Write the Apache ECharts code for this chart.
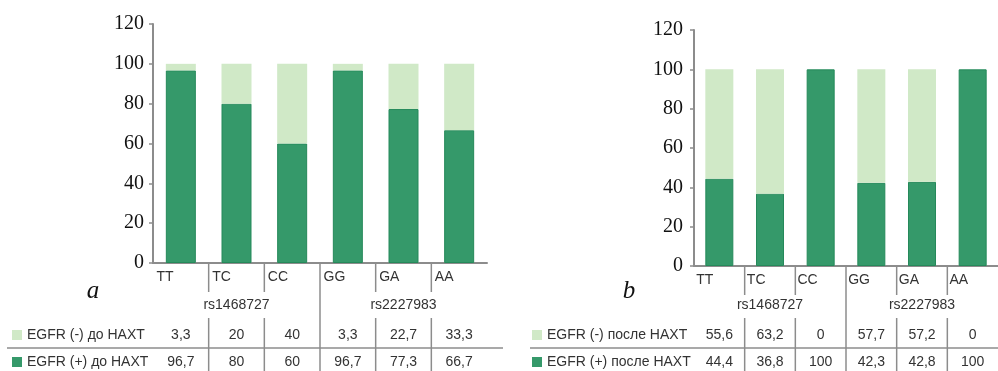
<!DOCTYPE html>
<html>
<head>
<meta charset="utf-8">
<script src="https://cdn.jsdelivr.net/npm/echarts@6/dist/echarts.min.js"></script>
<style>
  html, body { margin: 0; padding: 0; background: #fff; }
  #chart { width: 998px; height: 371px; }
</style>
</head>
<body>
<div id="chart"></div>
<script>
// Genotypes of the two EGFR polymorphisms
const genotypes = ['TT', 'TC', 'CC', 'GG', 'GA', 'AA'];
const snpGroups = ['rs1468727', 'rs2227983'];

// Panel a: before neoadjuvant chemotherapy (%)
const negBefore = [3.3, 20, 40, 3.3, 22.7, 33.3];
const posBefore = [96.7, 80, 60, 96.7, 77.3, 66.7];
// Panel b: after neoadjuvant chemotherapy (%)
const negAfter = [55.6, 63.2, 0, 57.7, 57.2, 0];
const posAfter = [44.4, 36.8, 100, 42.3, 42.8, 100];

const negNames = ['EGFR (-) до НАХТ', 'EGFR (-) после НАХТ'];
const posNames = ['EGFR (+) до НАХТ', 'EGFR (+) после НАХТ'];
const panelLetters = ['a', 'b'];
const yTicks = { min: 0, max: 120, step: 20 };

// Styling and layout
const DARK = '#35996a';
const DARK_EDGE = '#25895a';
const LIGHT = '#d0e9c7';
const AXIS = '#8c8c8c';
const SANS = '"Liberation Sans", Arial, sans-serif';
const SERIF = '"Liberation Serif", "Times New Roman", serif';

const panels = [
  { grid: { left: 153, top: 24, width: 334, height: 239 }, barWidth: 30, labelMargin: 9,
    neg: negBefore, pos: posBefore, legendX: 12, lineX1: 7, lineX2: 503, letterX: 93 },
  { grid: { left: 694, top: 30, width: 320, height: 236 }, barWidth: 28, labelMargin: 11,
    neg: negAfter, pos: posAfter, legendX: 532, lineX1: 530, lineX2: 998, letterX: 629 }
];
const table = { groupY: 305, row1Y: 335, row2Y: 362, ruleY: 348, sepTop: 318, bottom: 371, tickLen: 29 };

const fmt = v => String(v).replace('.', ',');

const chart = echarts.init(document.getElementById('chart'), null, { renderer: 'canvas', width: 998, height: 371 });

const bandWidths = panels.map(p => p.grid.width / genotypes.length);

const option = {
  animation: false,
  backgroundColor: '#fff',
  grid: panels.map(p => p.grid),
  xAxis: panels.map((p, i) => ({
    type: 'category',
    gridIndex: i,
    data: genotypes,
    axisLine: { lineStyle: { color: AXIS, width: 2 } },
    axisTick: { show: false },
    axisLabel: {
      interval: 0,
      margin: 7,
      formatter: v => '{g|' + v + '}',
      rich: { g: { width: bandWidths[i] - 7, align: 'left', fontFamily: SANS, fontSize: 14, color: '#333' } }
    }
  })),
  yAxis: panels.map((p, i) => ({
    type: 'value',
    gridIndex: i,
    min: yTicks.min,
    max: yTicks.max,
    interval: yTicks.step,
    splitLine: { show: false },
    axisLine: { show: true, lineStyle: { color: AXIS, width: 2 } },
    axisTick: { show: true, length: 4, lineStyle: { color: AXIS, width: 1.5 } },
    axisLabel: { margin: p.labelMargin, fontFamily: SERIF, fontSize: 20, color: '#111' }
  })),
  series: panels.flatMap((p, i) => [
    {
      name: posNames[i], type: 'bar', stack: 's' + i, xAxisIndex: i, yAxisIndex: i,
      barWidth: p.barWidth, data: p.pos,
      itemStyle: { color: DARK, borderColor: DARK_EDGE, borderWidth: 1 }
    },
    {
      name: negNames[i], type: 'bar', stack: 's' + i, xAxisIndex: i, yAxisIndex: i,
      barWidth: p.barWidth, data: p.neg,
      itemStyle: { color: LIGHT }
    }
  ])
};
chart.setOption(option);

// Data table under each panel, laid out along the category axis
const graphics = [];
const line = (x1, y1, x2, y2, w) => graphics.push({
  type: 'line', silent: true,
  shape: { x1, y1, x2, y2 },
  style: { stroke: AXIS, lineWidth: w || 1.5 }
});
const text = (x, y, t, opts) => graphics.push({
  type: 'text', silent: true, x, y,
  style: Object.assign({ text: t, fontFamily: SANS, fontSize: 14, fill: '#333', align: 'center', verticalAlign: 'middle' }, opts || {})
});

panels.forEach((p, i) => {
  const cx = genotypes.map(g => chart.convertToPixel({ xAxisIndex: i }, g));
  const bw = cx[1] - cx[0];
  const edges = [];
  for (let k = 0; k <= genotypes.length; k++) edges.push(cx[0] - bw / 2 + k * bw);
  const axisY = chart.convertToPixel({ yAxisIndex: i }, 0);

  // row rule
  line(p.lineX1, table.ruleY, p.lineX2, table.ruleY, 1.5);

  // category dividers and table column separators
  [1, 2, 4, 5].forEach(k => {
    line(edges[k], axisY, edges[k], axisY + table.tickLen, 1.5);
    line(edges[k], table.sepTop, edges[k], table.bottom, 1.5);
  });
  // divider between the two polymorphisms
  line(edges[3], axisY, edges[3], table.bottom, 1.5);

  // polymorphism names
  text((edges[0] + edges[3]) / 2, table.groupY, snpGroups[0]);
  text((edges[3] + edges[6]) / 2, table.groupY, snpGroups[1]);

  // legend keys and row names
  graphics.push({ type: 'rect', silent: true, shape: { x: p.legendX, y: table.row1Y - 5, width: 10, height: 10 }, style: { fill: LIGHT } });
  graphics.push({ type: 'rect', silent: true, shape: { x: p.legendX, y: table.row2Y - 5, width: 10, height: 10 }, style: { fill: DARK } });
  text(p.legendX + 15, table.row1Y, negNames[i], { align: 'left' });
  text(p.legendX + 15, table.row2Y, posNames[i], { align: 'left' });

  // values
  genotypes.forEach((g, j) => {
    text(cx[j], table.row1Y, fmt(p.neg[j]));
    text(cx[j], table.row2Y, fmt(p.pos[j]));
  });

  // panel letter
  text(p.letterX, 291, panelLetters[i], { fontFamily: SERIF, fontSize: 25, fontStyle: 'italic', fill: '#111' });
});

chart.setOption({ graphic: graphics });
</script>
</body>
</html>
